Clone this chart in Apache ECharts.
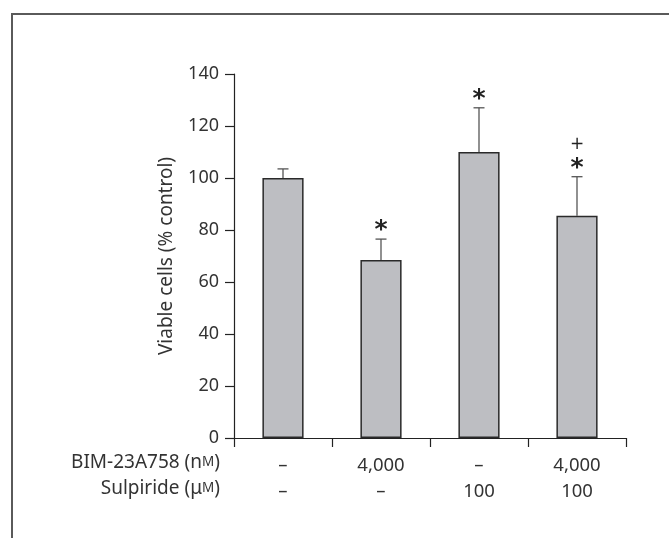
<!DOCTYPE html>
<html>
<head>
<meta charset="utf-8">
<script src="https://cdn.jsdelivr.net/npm/echarts@6/dist/echarts.min.js"></script>
<style>
html,body{margin:0;padding:0;background:#fff;}
#c{width:669px;height:538px;}
</style>
</head>
<body>
<div id="c"></div>
<script>
// ---- data ----
var rowBIM = ['–', '4,000', '–', '4,000'];
var rowSulpiride = ['–', '–', '100', '100'];
var values = [100, 68.5, 110, 85.5];
var errUpper = [3.5, 8, 17, 15];
var sigStar = ['', '*', '*', '*'];
var sigPlus = ['', '', '', '+'];
var yTicks = [0, 20, 40, 60, 80, 100, 120, 140];
var yAxisTitle = 'Viable cells (% control)';
var rowTitle1 = 'BIM-23A758 (n{sc|M})';
var rowTitle2 = 'Sulpiride (μ{sc|M})';

var categories = rowBIM.map(function (b, i) { return b + '\n' + rowSulpiride[i]; });
var FONT = 'Noto Sans';
var TXT = '#333333';

var chart = echarts.init(document.getElementById('c'), null, {renderer: 'canvas'});

var errData = values.map(function (v, i) { return [i, v, v + errUpper[i]]; });
var sigData = values.map(function (v, i) { return [i, v + errUpper[i]]; });

var option = {
  animation: false,
  backgroundColor: '#ffffff',
  grid: {left: 234, right: 43, top: 74, bottom: 100, containLabel: false},
  xAxis: {
    type: 'category',
    data: categories,
    axisLine: {lineStyle: {color: '#222', width: 1.2}},
    axisTick: {show: true, length: 9, inside: false, lineStyle: {color: '#222', width: 1.2}},
    axisLabel: {
      color: TXT, fontFamily: FONT, fontSize: 18.5, lineHeight: 26, margin: 15, interval: 0
    }
  },
  yAxis: {
    type: 'value',
    min: yTicks[0],
    max: yTicks[yTicks.length - 1],
    interval: 20,
    name: yAxisTitle,
    nameLocation: 'middle',
    nameGap: 58,
    nameTextStyle: {color: TXT, fontFamily: FONT, fontSize: 19},
    splitLine: {show: false},
    axisLine: {show: true, lineStyle: {color: '#222', width: 1.2}},
    axisTick: {show: true, length: 9, lineStyle: {color: '#222', width: 1.2}},
    axisLabel: {color: TXT, fontFamily: FONT, fontSize: 18, margin: 15}
  },
  series: [
    {
      type: 'bar',
      data: values,
      barWidth: '42%',
      itemStyle: {color: '#bdbec2', borderColor: '#2a2a2a', borderWidth: 1.5},
      z: 2
    },
    {
      type: 'custom',
      data: errData,
      z: 1,
      renderItem: function (params, api) {
        var x = api.value(0);
        var base = api.coord([x, api.value(1)]);
        var top = api.coord([x, api.value(2)]);
        return {
          type: 'group',
          children: [
            {type: 'line', shape: {x1: base[0], y1: base[1], x2: top[0], y2: top[1]},
             style: {stroke: '#555', lineWidth: 1.3}},
            {type: 'line', shape: {x1: top[0] - 5.5, y1: top[1], x2: top[0] + 5.5, y2: top[1]},
             style: {stroke: '#555', lineWidth: 1.3}}
          ]
        };
      }
    },
    {
      type: 'custom',
      data: sigData,
      z: 3,
      renderItem: function (params, api) {
        var x = api.value(0);
        var top = api.coord([x, api.value(1)]);
        var star = sigStar[params.dataIndex];
        var plus = sigPlus[params.dataIndex];
        var ch = [];
        if (star) ch.push({type: 'text', x: top[0], y: top[1] + 4,
          style: {text: star, fontFamily: 'DejaVu Sans', fontSize: 25, fontWeight: 'bold', fill: '#222', align: 'center', verticalAlign: 'bottom'}});
        if (plus) ch.push({type: 'text', x: top[0], y: top[1] - 32,
          style: {text: plus, fontFamily: 'DejaVu Sans', fontSize: 17, fill: '#222', align: 'center', verticalAlign: 'middle'}});
        return {type: 'group', children: ch};
      }
    }
  ],
  graphic: [
    {type: 'polyline', shape: {points: [[12, 538], [12, 14], [669, 14]]},
     style: {stroke: '#5a5a5a', lineWidth: 2, fill: null}},
    {type: 'text', right: 669 - 220, top: 453,
     style: {text: rowTitle1, fontFamily: FONT, fontSize: 19, fill: TXT, align: 'right',
       rich: {sc: {fontSize: 13.5, fontFamily: FONT, fill: TXT}}}},
    {type: 'text', right: 669 - 220, top: 479,
     style: {text: rowTitle2, fontFamily: FONT, fontSize: 19, fill: TXT, align: 'right',
       rich: {sc: {fontSize: 13.5, fontFamily: FONT, fill: TXT}}}}
  ]
};
chart.setOption(option);
</script>
</body>
</html>
